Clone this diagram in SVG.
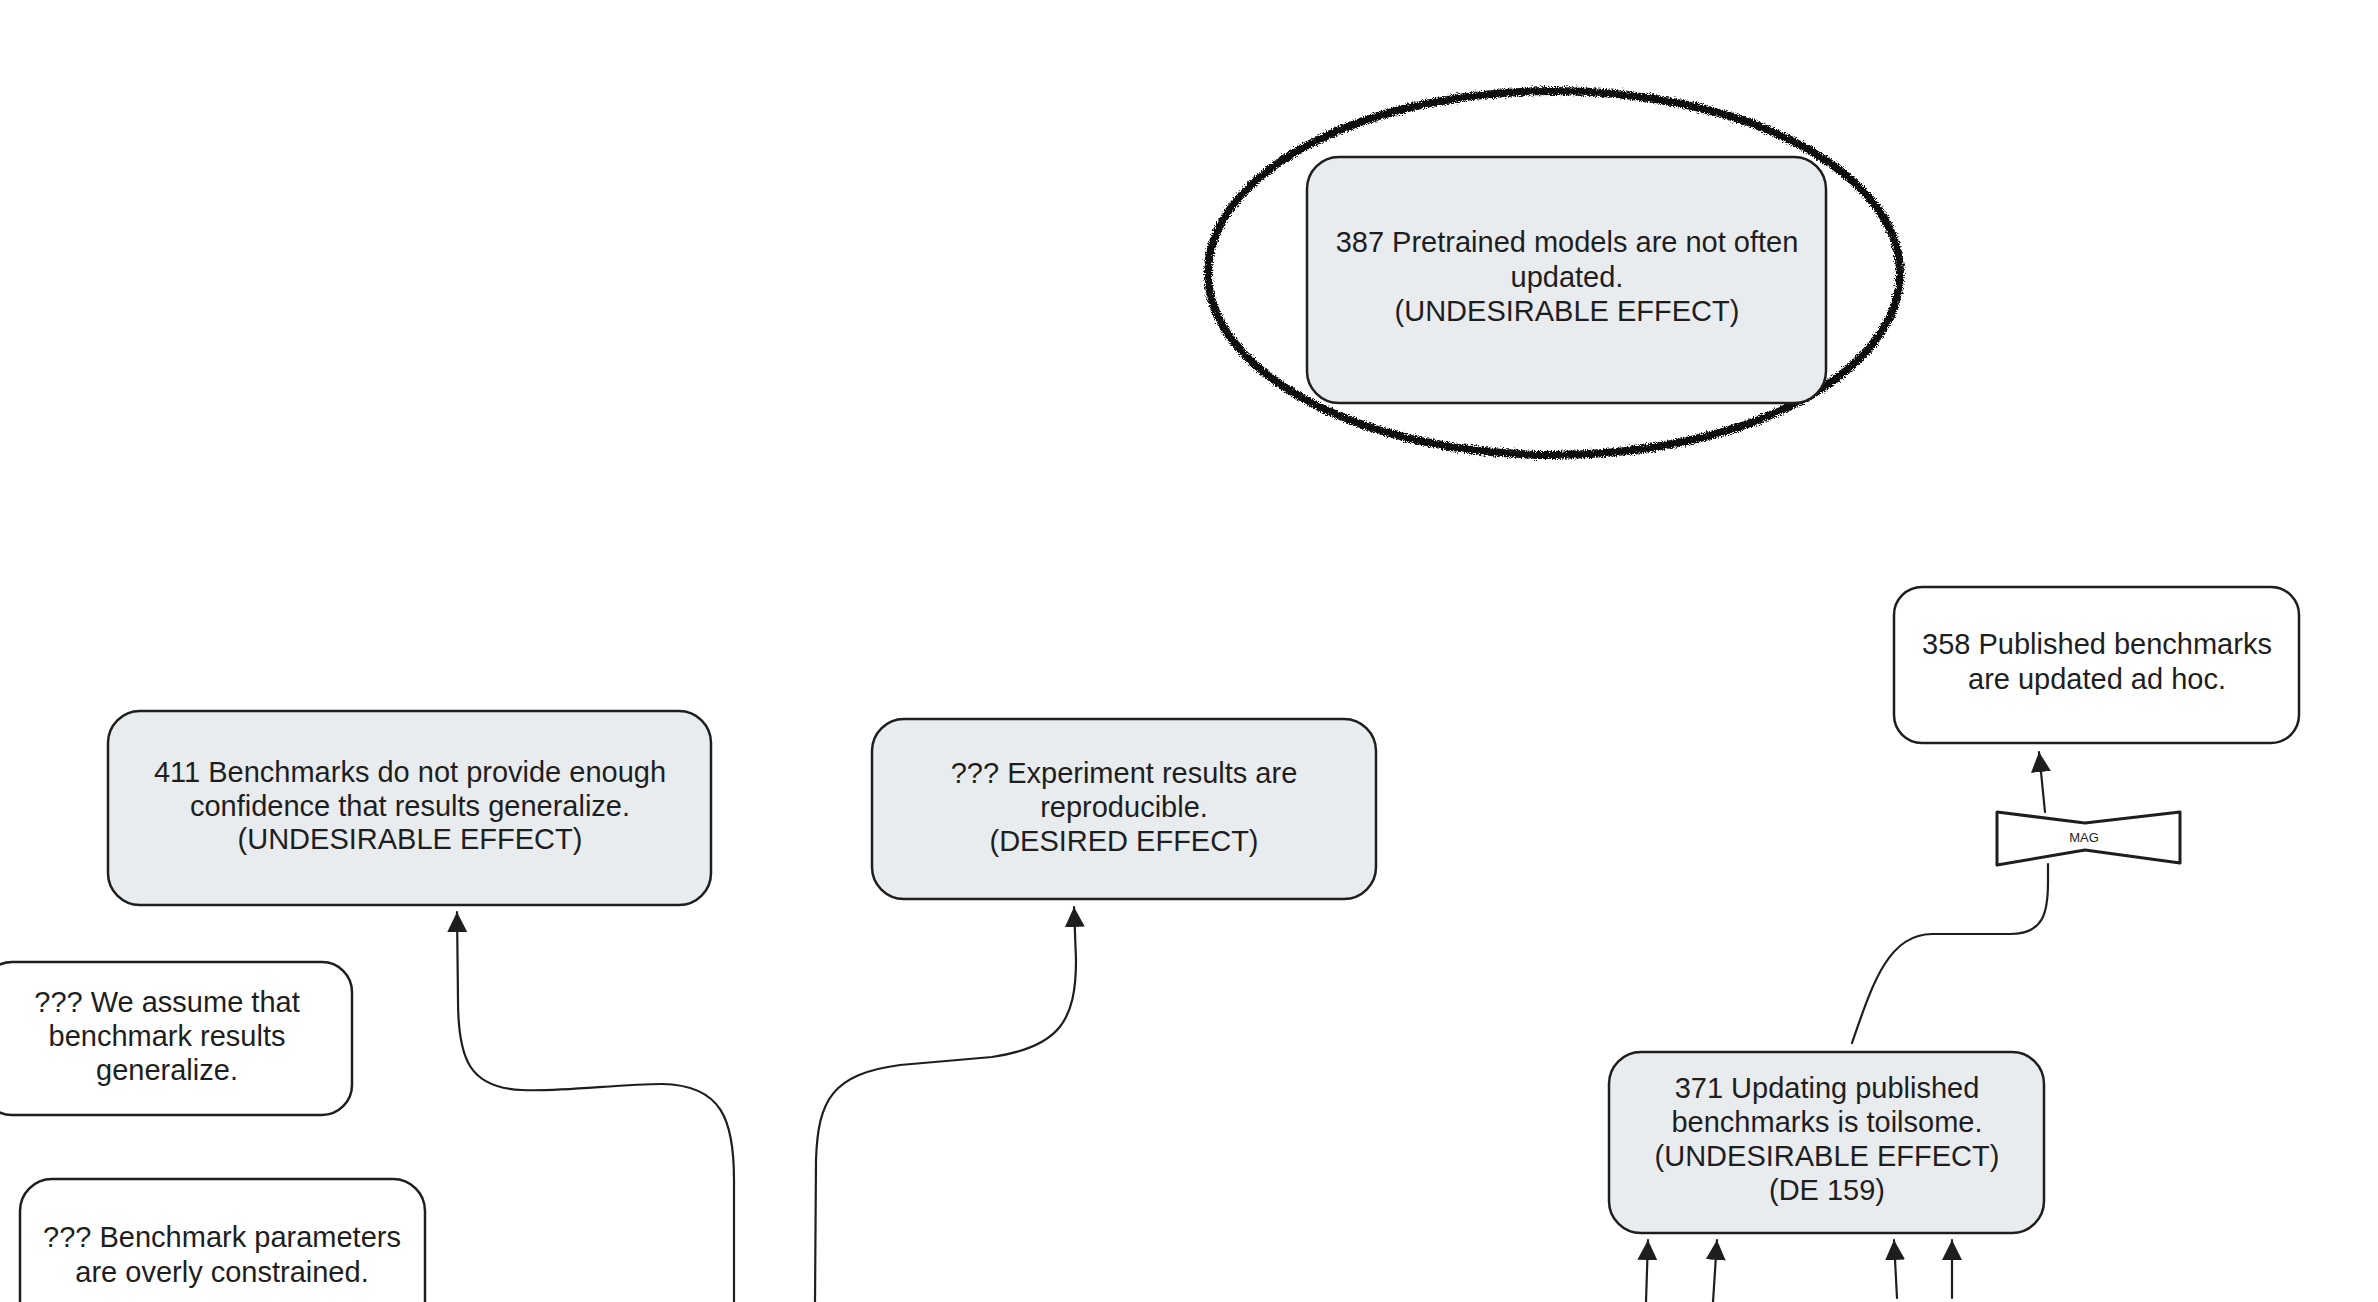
<svg xmlns="http://www.w3.org/2000/svg" width="2378" height="1302" viewBox="0 0 2378 1302">
  <style>
    .box { stroke: #1e1e1e; stroke-width: 2.5; }
    .grey { fill: #e9ecef; }
    .white { fill: #ffffff; }
    .lbl { font-family: "Liberation Sans", Arial, sans-serif; font-size: 29px; fill: #1e1e1e; text-anchor: middle; }
    .small { font-family: "Liberation Sans", Arial, sans-serif; font-size: 13px; fill: #1e1e1e; text-anchor: middle; }
    .conn { fill: none; stroke: #1e1e1e; stroke-width: 2.2; stroke-linecap: round; stroke-linejoin: round; }
  </style>
  <defs>
    <marker id="arrow" markerUnits="userSpaceOnUse" markerWidth="22" markerHeight="22" refX="20" refY="10" orient="auto">
      <path d="M0,0 L20,10 L0,20 z" fill="#1e1e1e"/>
    </marker>
    <filter id="rough" x="-5%" y="-10%" width="110%" height="120%">
      <feTurbulence type="fractalNoise" baseFrequency="0.9" numOctaves="2" seed="3" result="n"/>
      <feDisplacementMap in="SourceGraphic" in2="n" scale="7" xChannelSelector="R" yChannelSelector="G"/>
    </filter>
  </defs>
  <rect width="2378" height="1302" fill="#ffffff"/>

  <g id="connectors">
    <path class="conn" marker-end="url(#arrow)" d="M734,1302 L734,1180 C734,1120 722,1085 662,1084 C620,1084 560,1092 522,1090 C470,1088 458,1060 458,1000 L457,912"/>
    <path class="conn" marker-end="url(#arrow)" d="M815,1302 L816,1160 C818,1100 832,1074 900,1065 L992,1057 C1060,1047 1076,1020 1076,960 L1074,907"/>
    <path class="conn" d="M1852,1043 C1872,985 1888,934 1932,934 L2010,934 C2044,934 2048,912 2048,882 L2048,864"/>
    <path class="conn" marker-end="url(#arrow)" d="M2045,812 L2039,752"/>
    <path class="conn" marker-end="url(#arrow)" d="M1646,1302 L1648,1240"/>
    <path class="conn" marker-end="url(#arrow)" d="M1713,1302 L1717,1240"/>
    <path class="conn" marker-end="url(#arrow)" d="M1897,1298 L1894,1240"/>
    <path class="conn" marker-end="url(#arrow)" d="M1952,1298 L1952,1240"/>
  </g>

  <g id="node-387">
    <ellipse cx="1554" cy="273" rx="346" ry="182" fill="none" stroke="#111111" stroke-width="8" filter="url(#rough)"/>
    <rect class="box grey" x="1307" y="157" width="519" height="246" rx="32"/>
    <text class="lbl" x="1567" y="252">387 Pretrained models are not often</text>
    <text class="lbl" x="1567" y="287">updated.</text>
    <text class="lbl" x="1567" y="321">(UNDESIRABLE EFFECT)</text>
  </g>

  <g id="node-411">
    <rect class="box grey" x="108" y="711" width="603" height="194" rx="32"/>
    <text class="lbl" x="410" y="782">411 Benchmarks do not provide enough</text>
    <text class="lbl" x="410" y="816">confidence that results generalize.</text>
    <text class="lbl" x="410" y="849">(UNDESIRABLE EFFECT)</text>
  </g>

  <g id="node-experiment">
    <rect class="box grey" x="872" y="719" width="504" height="180" rx="32"/>
    <text class="lbl" x="1124" y="783">??? Experiment results are</text>
    <text class="lbl" x="1124" y="817">reproducible.</text>
    <text class="lbl" x="1124" y="851">(DESIRED EFFECT)</text>
  </g>

  <g id="node-358">
    <rect class="box white" x="1894" y="587" width="405" height="156" rx="28"/>
    <text class="lbl" x="2097" y="654">358 Published benchmarks</text>
    <text class="lbl" x="2097" y="689">are updated ad hoc.</text>
  </g>

  <g id="node-mag">
    <polygon points="1997,812 2085,823 2180,812 2180,863 2085,850 1997,865" fill="#ffffff" stroke="#1e1e1e" stroke-width="3" stroke-linejoin="round"/>
    <text class="small" x="2084" y="842">MAG</text>
  </g>

  <g id="node-371">
    <rect class="box grey" x="1609" y="1052" width="435" height="181" rx="32"/>
    <text class="lbl" x="1827" y="1098">371 Updating published</text>
    <text class="lbl" x="1827" y="1132">benchmarks is toilsome.</text>
    <text class="lbl" x="1827" y="1166">(UNDESIRABLE EFFECT)</text>
    <text class="lbl" x="1827" y="1200">(DE 159)</text>
  </g>

  <g id="node-assume">
    <rect class="box white" x="-18" y="962" width="370" height="153" rx="30"/>
    <text class="lbl" x="167" y="1012">??? We assume that</text>
    <text class="lbl" x="167" y="1046">benchmark results</text>
    <text class="lbl" x="167" y="1080">generalize.</text>
  </g>

  <g id="node-params">
    <rect class="box white" x="20" y="1179" width="405" height="180" rx="32"/>
    <text class="lbl" x="222" y="1247">??? Benchmark parameters</text>
    <text class="lbl" x="222" y="1282">are overly constrained.</text>
  </g>
</svg>
